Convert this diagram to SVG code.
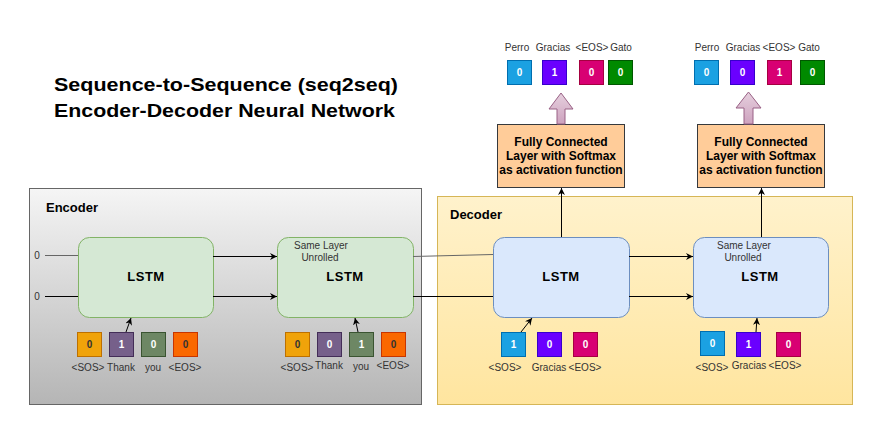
<svg xmlns="http://www.w3.org/2000/svg" width="873" height="428" viewBox="0 0 873 428">
<defs>
<linearGradient id="gEnc" x1="0" y1="0" x2="0" y2="1"><stop offset="0" stop-color="#f5f5f5"/><stop offset="1" stop-color="#b5b5b5"/></linearGradient>
<linearGradient id="gDec" x1="0" y1="0" x2="0" y2="1"><stop offset="0" stop-color="#fff2cc"/><stop offset="1" stop-color="#ffe59f"/></linearGradient>
<linearGradient id="gPink" x1="0" y1="0" x2="0" y2="1"><stop offset="0" stop-color="#e6d0de"/><stop offset="1" stop-color="#cda2be"/></linearGradient>
<marker id="arr" viewBox="0 0 10 10" refX="10" refY="5" markerWidth="7" markerHeight="7" markerUnits="userSpaceOnUse" orient="auto"><path d="M0,0 L10,5 L0,10 L3,5 Z" fill="#000"/></marker>
</defs>
<style>
text{font-family:"Liberation Sans",Arial,sans-serif}
.t{font-size:10px;fill:#333;text-anchor:middle}
.lb{font-size:13px;font-weight:bold;fill:#000}
.lstm{font-size:13px;font-weight:bold;fill:#000;text-anchor:middle;letter-spacing:0.5px}
.fc{font-size:12px;font-weight:bold;fill:#000;text-anchor:middle}
.n{font-size:10px;font-weight:bold;fill:#fff;text-anchor:middle}
.nd{font-size:10px;font-weight:bold;fill:#333;text-anchor:middle}
.ln{fill:none;stroke:#000;stroke-width:1}
.lg{fill:none;stroke:#666;stroke-width:1}
.enc{fill:#d5e8d4;stroke:#82b366}
.dec{fill:#dae8fc;stroke:#6c8ebf}
.fcb{fill:#ffcc99;stroke:#36393d}
.pk{fill:url(#gPink);stroke:#996185}
.c1{fill:#f0a30a;stroke:#bd7000}
.c2{fill:#76608a;stroke:#432d57}
.c3{fill:#6d8764;stroke:#3a5431}
.c4{fill:#fa6800;stroke:#c73500}
.b1{fill:#1ba1e2;stroke:#006eaf}
.b2{fill:#6a00ff;stroke:#3700cc}
.b3{fill:#d80073;stroke:#a50040}
.b4{fill:#008a00;stroke:#005700}
</style>

<g id="title">
<text x="54" y="91" font-size="19" font-weight="bold" fill="#000" textLength="344" lengthAdjust="spacingAndGlyphs">Sequence-to-Sequence (seq2seq)</text>
<text x="54" y="117" font-size="19" font-weight="bold" fill="#000" textLength="341" lengthAdjust="spacingAndGlyphs">Encoder-Decoder Neural Network</text>
</g>

<g id="encoder">
<rect x="29.5" y="188.5" width="392" height="216" fill="url(#gEnc)" stroke="#666"/>
<text class="lb" x="46" y="212">Encoder</text>
</g>

<g id="decoder">
<rect x="437.5" y="196.5" width="415" height="208" fill="url(#gDec)" stroke="#d6b656"/>
<text class="lb" x="450" y="219">Decoder</text>
</g>

<g id="enc-lstm1">
<rect class="enc" x="78.5" y="237.5" width="135" height="80" rx="11"/>
<text class="lstm" x="146" y="281">LSTM</text>
</g>
<g id="enc-lstm2">
<rect class="enc" x="277.5" y="237.5" width="136" height="80" rx="11"/>
<text class="t" x="321" y="249">Same Layer</text>
<text class="t" x="320" y="261">Unrolled</text>
<text class="lstm" x="345" y="281">LSTM</text>
</g>
<g id="dec-lstm1">
<rect class="dec" x="493.5" y="237.5" width="136" height="80" rx="11"/>
<text class="lstm" x="561" y="281">LSTM</text>
</g>
<g id="dec-lstm2">
<rect class="dec" x="693.5" y="237.5" width="135" height="80" rx="11"/>
<text class="t" x="744" y="249">Same Layer</text>
<text class="t" x="743" y="261">Unrolled</text>
<text class="lstm" x="760" y="281">LSTM</text>
</g>

<g id="fc1">
<rect class="fcb" x="497.5" y="124.5" width="127" height="63"/>
<text class="fc" x="561" y="146">Fully Connected</text>
<text class="fc" x="561" y="160">Layer with Softmax</text>
<text class="fc" x="561" y="174">as activation function</text>
</g>
<g id="fc2">
<rect class="fcb" x="697.5" y="124.5" width="127" height="63"/>
<text class="fc" x="761" y="146">Fully Connected</text>
<text class="fc" x="761" y="160">Layer with Softmax</text>
<text class="fc" x="761" y="174">as activation function</text>
</g>

<g id="enc-in1">
<rect class="c1" x="77.5" y="332.5" width="24" height="24"/><text class="nd" x="89.5" y="348">0</text>
<rect class="c2" x="109.5" y="332.5" width="24" height="24"/><text class="n" x="121.5" y="348">1</text>
<rect class="c3" x="141.5" y="332.5" width="24" height="24"/><text class="n" x="153.5" y="348">0</text>
<rect class="c4" x="173.5" y="332.5" width="24" height="24"/><text class="nd" x="185.5" y="348">0</text>
<text class="t" x="88" y="371">&lt;SOS&gt;</text>
<text class="t" x="121" y="371">Thank</text>
<text class="t" x="153" y="371">you</text>
<text class="t" x="185" y="371">&lt;EOS&gt;</text>
</g>
<g id="enc-in2">
<rect class="c1" x="285.5" y="332.5" width="24" height="24"/><text class="nd" x="297.5" y="348">0</text>
<rect class="c2" x="317.5" y="332.5" width="24" height="24"/><text class="n" x="329.5" y="348">0</text>
<rect class="c3" x="349.5" y="332.5" width="24" height="24"/><text class="n" x="361.5" y="348">1</text>
<rect class="c4" x="381.5" y="332.5" width="24" height="24"/><text class="nd" x="393.5" y="348">0</text>
<text class="t" x="297" y="371">&lt;SOS&gt;</text>
<text class="t" x="329" y="369">Thank</text>
<text class="t" x="361" y="370">you</text>
<text class="t" x="393" y="369">&lt;EOS&gt;</text>
</g>
<g id="dec-in1">
<rect class="b1" x="501.5" y="332.5" width="24" height="24"/><text class="n" x="513.5" y="348">1</text>
<rect class="b2" x="537.5" y="332.5" width="24" height="24"/><text class="n" x="549.5" y="348">0</text>
<rect class="b3" x="573.5" y="332.5" width="24" height="24"/><text class="n" x="585.5" y="348">0</text>
<text class="t" x="505" y="371">&lt;SOS&gt;</text>
<text class="t" x="549" y="371">Gracias</text>
<text class="t" x="585" y="371">&lt;EOS&gt;</text>
</g>
<g id="dec-in2">
<rect class="b1" x="700.5" y="331.5" width="24" height="24"/><text class="n" x="712.5" y="347">0</text>
<rect class="b2" x="736.5" y="332.5" width="24" height="24"/><text class="n" x="748.5" y="348">1</text>
<rect class="b3" x="776.5" y="332.5" width="24" height="24"/><text class="n" x="788.5" y="348">0</text>
<text class="t" x="712" y="371">&lt;SOS&gt;</text>
<text class="t" x="749" y="369">Gracias</text>
<text class="t" x="785" y="369">&lt;EOS&gt;</text>
</g>

<g id="out1">
<text class="t" x="517" y="51">Perro</text>
<text class="t" x="553" y="51">Gracias</text>
<text class="t" x="592" y="51">&lt;EOS&gt;</text>
<text class="t" x="621" y="51">Gato</text>
<rect class="b1" x="507.5" y="60.5" width="24" height="24"/><text class="n" x="519.5" y="76">0</text>
<rect class="b2" x="542.5" y="60.5" width="24" height="24"/><text class="n" x="554.5" y="76">1</text>
<rect class="b3" x="579.5" y="60.5" width="24" height="24"/><text class="n" x="591.5" y="76">0</text>
<rect class="b4" x="608.5" y="60.5" width="24" height="24"/><text class="n" x="620.5" y="76">0</text>
<polygon class="pk" points="561,93 573,109 565,109 565,124 557,124 557,109 549,109"/>
</g>
<g id="out2">
<text class="t" x="707" y="51">Perro</text>
<text class="t" x="743" y="51">Gracias</text>
<text class="t" x="779" y="51">&lt;EOS&gt;</text>
<text class="t" x="809" y="51">Gato</text>
<rect class="b1" x="694.5" y="60.5" width="24" height="24"/><text class="n" x="706.5" y="76">0</text>
<rect class="b2" x="730.5" y="60.5" width="24" height="24"/><text class="n" x="742.5" y="76">0</text>
<rect class="b3" x="767.5" y="60.5" width="24" height="24"/><text class="n" x="779.5" y="76">1</text>
<rect class="b4" x="800.5" y="60.5" width="24" height="24"/><text class="n" x="812.5" y="76">0</text>
<polygon class="pk" points="748.5,92 761,108 753,108 753,124 744,124 744,108 736,108"/>
</g>

<g id="init-labels">
<text class="t" x="37" y="259">0</text>
<text class="t" x="37" y="300">0</text>
</g>

<g id="connectors">
<path class="lg" d="M45,255.5 H78"/>
<path class="ln" d="M45,296.5 H78"/>
<path class="ln" d="M213,256.5 H277" marker-end="url(#arr)"/>
<path class="ln" d="M213,296.5 H277" marker-end="url(#arr)"/>
<path class="lg" d="M413,256.5 L493,254.5"/>
<path class="ln" d="M413,296.5 H493"/>
<path class="ln" d="M629,256.5 H693" marker-end="url(#arr)"/>
<path class="ln" d="M629,296.5 H693" marker-end="url(#arr)"/>
<path class="ln" d="M561.5,237 V188" marker-end="url(#arr)"/>
<path class="ln" d="M761.5,237 V188" marker-end="url(#arr)"/>
<path class="ln" d="M126,332 L131,318" marker-end="url(#arr)"/>
<path class="ln" d="M358,332 L355,318" marker-end="url(#arr)"/>
<path class="ln" d="M521,332 L532,318" marker-end="url(#arr)"/>
<path class="ln" d="M756,332 L757,318" marker-end="url(#arr)"/>
</g>
</svg>
